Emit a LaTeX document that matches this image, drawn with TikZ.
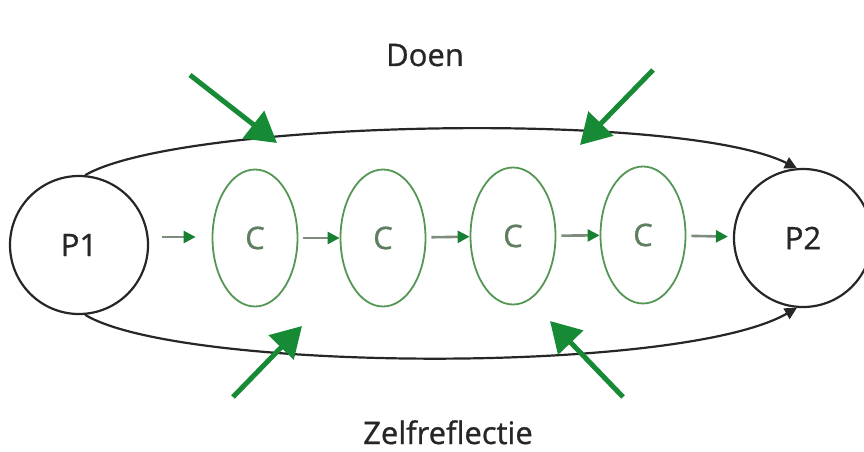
\documentclass[tikz,border=0pt]{standalone}
\usepackage{fontspec}
\setmainfont{Open Sans}[FakeBold=0.9]
\usetikzlibrary{arrows.meta,shapes.geometric}
\definecolor{biggreen}{RGB}{22,138,52}
\definecolor{ellgreen}{RGB}{84,150,84}
\definecolor{ctext}{RGB}{95,125,95}
\definecolor{shaftgray}{RGB}{125,140,125}
\definecolor{headgreen}{RGB}{24,128,50}
\tikzset{
  pcircle/.style={circle,draw=black!85,line width=2.2pt,minimum size=138pt,inner sep=0pt,font=\fontsize{31}{31}\selectfont,text=black!85},
  cell/.style={ellipse,draw=ellgreen,line width=1.8pt,minimum width=85pt,minimum height=137pt,inner sep=0pt,font=\fontsize{31}{31}\selectfont,text=ctext},
  smallarr/.style={draw=shaftgray,line width=2.6pt,-{Triangle[length=12pt,width=12pt,color=headgreen]},shorten <=5pt},
  bigarr/.style={draw=biggreen,line width=5pt,-{Triangle[length=30pt,width=34pt]}},
  loopline/.style={draw=black!85,line width=2.2pt,-{Triangle[length=12pt,width=12pt]}},
  lbl/.style={font=\fontsize{31}{31}\selectfont,text=black!85,inner sep=0pt,anchor=base}
}
\begin{document}
\begin{tikzpicture}[x=1pt,y=-1pt]
\useasboundingbox (0,0) rectangle (864,452);
\clip (0,0) rectangle (864,452);
\node[pcircle] (p1) at (79,245) {P1};
\node[pcircle] (p2) at (803,238) {P2};
\node[cell] (c1) at (255,238) {C};
\node[cell] (c2) at (383,238) {C};
\node[cell] (c3) at (513,236) {C};
\node[cell] (c4) at (643,235) {C};
\draw[smallarr,shorten <=13pt,shorten >=16pt] (p1.east |- 0,237) -- (c1.west |- 0,237);
\draw[smallarr] (c1) -- (c2);
\draw[smallarr] (c2) -- (c3);
\draw[smallarr] (c3) -- (c4);
\draw[smallarr,shorten >=5pt] (c4) -- (p2);
\draw[loopline] (p1.85) .. controls (180,120) and (680,110) .. (p2.95);
\draw[loopline] (p1.-85) .. controls (180,372) and (680,375) .. (p2.-95);
\coordinate (t1s) at (190,75); \coordinate (t1e) at (277,143);
\coordinate (t2s) at (653,70); \coordinate (t2e) at (580,145);
\coordinate (b1s) at (233,397); \coordinate (b1e) at (302,326);
\coordinate (b2s) at (623,397); \coordinate (b2e) at (550,321);
\draw[bigarr] (t1s) -- (t1e);
\draw[bigarr] (t2s) -- (t2e);
\draw[bigarr] (b1s) -- (b1e);
\draw[bigarr] (b2s) -- (b2e);
\node[lbl] (doen) at (425,66) {Doen};
\node[lbl] (zelf) at (448,444) {Zelfreflectie};
\end{tikzpicture}
\end{document}
